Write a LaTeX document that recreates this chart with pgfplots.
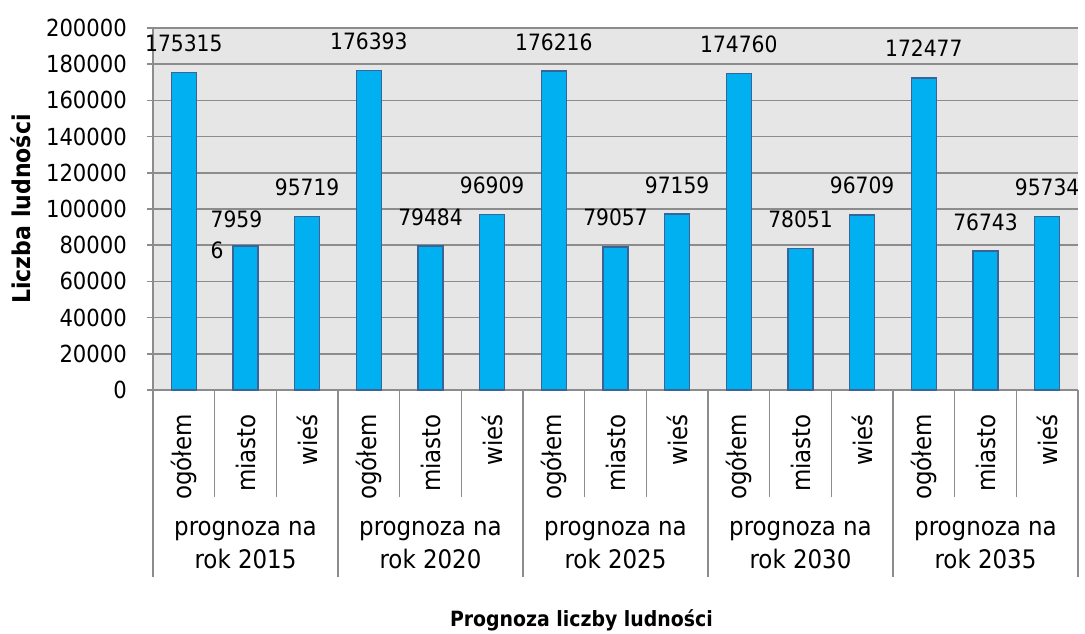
\documentclass[border=0pt]{standalone}
\usepackage{fontspec}
\setmainfont{DejaVu Sans Condensed}
\usepackage{pgfplots}
\pgfplotsset{compat=1.18}
\definecolor{barfill}{HTML}{00B0F0}
\definecolor{barline}{HTML}{3A6497}
\definecolor{gridc}{HTML}{8C8C8C}
\definecolor{bgc}{HTML}{E6E6E6}
\newcommand{\tf}{\fontsize{23.5}{28}\selectfont}
\newcommand{\df}{\fontsize{22.5}{31}\selectfont}
\newcommand{\cf}{\fontsize{25.5}{33}\selectfont}
\begin{document}
\begin{tikzpicture}
\useasboundingbox (-153pt,-244pt) rectangle (932pt,390pt);
\begin{axis}[
  at={(0,0)}, anchor=south west,
  scale only axis, width=925pt, height=362pt,
  xmin=-0.5, xmax=14.5, ymin=0, ymax=200000,
  clip=false,
  axis x line*=bottom, axis y line*=left,
  axis line style={-, draw=gridc, line width=1.5pt},
  axis background/.style={fill=bgc},
  ymajorgrids, major grid style={draw=gridc, line width=1.5pt},
  ytick={0,20000,...,200000},
  scaled y ticks=false,
  /pgf/number format/fixed,
  /pgf/number format/1000 sep={},
  /pgf/number format/assume math mode=true,
  tick align=outside,
  tick style={draw=gridc, line width=1.5pt},
  major tick length=6pt,
  minor tick length=107pt,
  xtick={0,...,14},
  every major x tick/.style={draw=none},
  minor xtick={0.5,1.5,3.5,4.5,6.5,7.5,9.5,10.5,12.5,13.5},
  xticklabels={ogółem,miasto,wieś,ogółem,miasto,wieś,ogółem,miasto,wieś,ogółem,miasto,wieś,ogółem,miasto,wieś},
  xticklabel style={font=\cf, inner sep=0pt, yshift=-18pt, rotate=90, anchor=east},
  yticklabel style={font=\tf, inner sep=0pt, xshift=-20pt, anchor=east},
  xlabel={Prognoza liczby ludności},
  xlabel style={at={(axis description cs:0.4632,-0.6354)}, anchor=center, font=\bfseries\fontsize{21}{26}\selectfont},
  ylabel={Liczba ludności},
  ylabel style={at={(axis description cs:-0.1427,0.5)}, anchor=center, font=\bfseries\fontsize{24.5}{28}\selectfont},
]
\addplot[ybar, bar width=25pt, bar shift=0pt, fill=barfill, draw=barline, line width=1.5pt,
  nodes near coords, point meta=explicit symbolic,
  every node near coord/.style={font=\df, anchor=base, yshift=21pt, inner sep=0pt, text=black}]
  coordinates {
  (0,175315)[175315] (2,95719)[95719]
  (3,176393)[176393] (4,79484)[79484] (5,96909)[96909]
  (6,176216)[176216] (7,79057)[79057] (8,97159)[97159]
  (9,174760)[174760] (10,78051)[78051] (11,96709)[96709]
  (12,172477)[172477] (13,76743)[76743] (14,95734)[95734]
  };
\addplot[ybar, bar width=25pt, bar shift=0pt, fill=barfill, draw=barline, line width=1.5pt,
  nodes near coords, point meta=explicit symbolic,
  every node near coord/.style={font=\df, anchor=north west, align=left, xshift=-35.5pt, yshift=36pt, inner sep=0pt, text=black}]
  coordinates {(1,79596)[{7959\\6}]};
\draw[gridc, line width=1.5pt] (axis cs:-0.5,0) -- ++(0pt,-187pt);
\draw[gridc, line width=1.5pt] (axis cs:2.5,0) -- ++(0pt,-187pt);
\draw[gridc, line width=1.5pt] (axis cs:5.5,0) -- ++(0pt,-187pt);
\draw[gridc, line width=1.5pt] (axis cs:8.5,0) -- ++(0pt,-187pt);
\draw[gridc, line width=1.5pt] (axis cs:11.5,0) -- ++(0pt,-187pt);
\draw[gridc, line width=1.5pt] (axis cs:14.5,0) -- ++(0pt,-187pt);
\node[font=\cf, align=center] at (axis cs:1,0) [yshift=-155pt] {prognoza na\\rok 2015};
\node[font=\cf, align=center] at (axis cs:4,0) [yshift=-155pt] {prognoza na\\rok 2020};
\node[font=\cf, align=center] at (axis cs:7,0) [yshift=-155pt] {prognoza na\\rok 2025};
\node[font=\cf, align=center] at (axis cs:10,0) [yshift=-155pt] {prognoza na\\rok 2030};
\node[font=\cf, align=center] at (axis cs:13,0) [yshift=-155pt] {prognoza na\\rok 2035};
\end{axis}
\end{tikzpicture}
\end{document}
